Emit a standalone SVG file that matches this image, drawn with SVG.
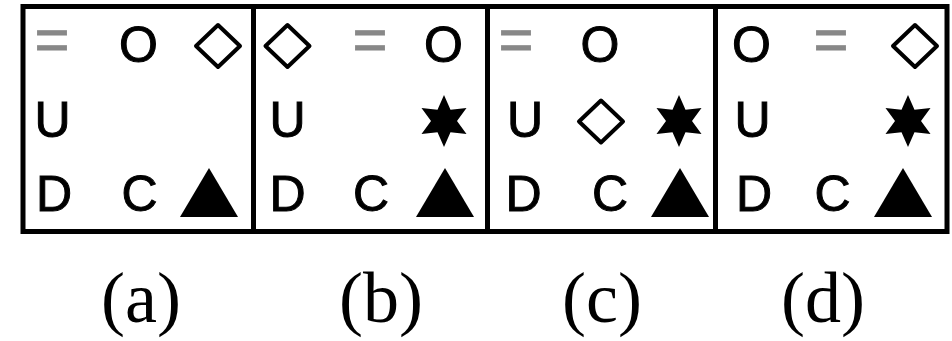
<svg xmlns="http://www.w3.org/2000/svg" xmlns:xlink="http://www.w3.org/1999/xlink" width="952" height="341" viewBox="0 0 952 341">
<style>
.lt{font-family:"Liberation Sans",Arial,sans-serif;font-size:50px;fill:#000;stroke:#000;stroke-width:1;text-anchor:middle}
.eq{font-family:"Liberation Sans",Arial,sans-serif;font-size:60px;fill:#888;stroke:#888;stroke-width:0.8;text-anchor:middle}
.lab{font-family:"Liberation Serif","Times New Roman",serif;font-size:72px;fill:#000;text-anchor:middle}
.frame{fill:none;stroke:#000;stroke-width:5}
.dia{fill:none;stroke:#000;stroke-width:4;stroke-linejoin:round}
</style>
<defs>
<polygon id="diamond" class="dia" points="0,-21 22,0 0,21 -22,0"/>
<polygon id="star" fill="#000" points="0,-26 6.5,-11.26 22.5,-13 13,0 22.5,13 6.5,11.26 0,26 -6.5,11.26 -22.5,13 -13,0 -22.5,-13 -6.5,-11.26"/>
<polygon id="tri" fill="#000" points="0,-49 29,0 -29,0"/>
</defs>
<rect width="952" height="341" fill="#fff"/>
<g id="frame">
<rect class="frame" x="23" y="6.5" width="924" height="225"/>
<line class="frame" x1="253.5" y1="6.5" x2="253.5" y2="231.5"/>
<line class="frame" x1="487.5" y1="6.5" x2="487.5" y2="231.5"/>
<line class="frame" x1="715.5" y1="6.5" x2="715.5" y2="231.5"/>
</g>
<g id="panel-a">
<text class="eq" x="52" y="60">=</text>
<text class="lt" x="138.5" y="62">O</text>
<use xlink:href="#diamond" x="218" y="46"/>
<text class="lt" x="52.5" y="137">U</text>
<text class="lt" x="54" y="211">D</text>
<text class="lt" x="139.5" y="211">C</text>
<use xlink:href="#tri" x="209" y="217"/>
</g>
<g id="panel-b">
<use xlink:href="#diamond" x="287.5" y="46"/>
<text class="eq" x="370" y="60">=</text>
<text class="lt" x="443.5" y="62">O</text>
<text class="lt" x="287.5" y="137">U</text>
<use xlink:href="#star" x="444" y="121"/>
<text class="lt" x="287.5" y="211">D</text>
<text class="lt" x="371" y="211">C</text>
<use xlink:href="#tri" x="445" y="217"/>
</g>
<g id="panel-c">
<text class="eq" x="516" y="60">=</text>
<text class="lt" x="600" y="62">O</text>
<text class="lt" x="525" y="137">U</text>
<use xlink:href="#diamond" x="601" y="121.5"/>
<use xlink:href="#star" x="679" y="121"/>
<text class="lt" x="523.5" y="211">D</text>
<text class="lt" x="610" y="211">C</text>
<use xlink:href="#tri" x="680" y="217"/>
</g>
<g id="panel-d">
<text class="lt" x="751.5" y="62">O</text>
<text class="eq" x="831" y="60">=</text>
<use xlink:href="#diamond" x="915" y="46"/>
<text class="lt" x="752.5" y="137">U</text>
<use xlink:href="#star" x="908" y="121"/>
<text class="lt" x="754" y="211">D</text>
<text class="lt" x="832.5" y="211">C</text>
<use xlink:href="#tri" x="903" y="217"/>
</g>
<g id="labels">
<text class="lab" x="141" y="322">(a)</text>
<text class="lab" x="381" y="322">(b)</text>
<text class="lab" x="602" y="322">(c)</text>
<text class="lab" x="823" y="322">(d)</text>
</g>
</svg>
